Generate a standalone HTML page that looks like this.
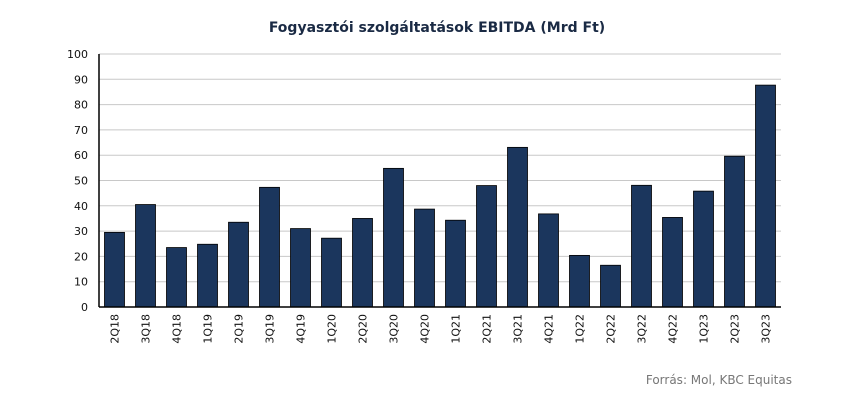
<!DOCTYPE html>
<html><head><meta charset="utf-8"><style>
body{margin:0;background:#fff;width:850px;height:405px;overflow:hidden;font-family:"DejaVu Sans","Liberation Sans",sans-serif}
</style></head><body>
<svg id="chart" width="850" height="405" xmlns="http://www.w3.org/2000/svg">
<text x="437" y="32" text-anchor="middle" font-size="14" font-weight="bold" fill="#1a2a44">Fogyasztói szolgáltatások EBITDA (Mrd Ft)</text>
<g id="grid"></g><g id="bars"></g><g id="xlabels"></g><g id="ylabels"></g>
<line x1="99" y1="54" x2="99" y2="307" stroke="#000" stroke-width="1.5"/>
<line x1="99" y1="307" x2="781" y2="307" stroke="#000" stroke-width="1.5"/>
<text x="792" y="384" text-anchor="end" font-size="12" fill="#777">Forrás: Mol, KBC Equitas</text>
</svg>
<script>
const categories=["2Q18","3Q18","4Q18","1Q19","2Q19","3Q19","4Q19","1Q20","2Q20","3Q20","4Q20","1Q21","2Q21","3Q21","4Q21","1Q22","2Q22","3Q22","4Q22","1Q23","2Q23","3Q23"];
const values=[29.5,40.5,23.5,24.8,33.5,47.3,31,27.2,35,54.8,38.7,34.3,48,63.1,36.8,20.4,16.5,48.1,35.4,45.8,59.6,87.7];
const yTicks=[0,10,20,30,40,50,60,70,80,90,100];
const NS="http://www.w3.org/2000/svg";
const x0=99,x1=781,y0=307,y1=54,yMax=100;
const slot=(x1-x0)/categories.length;
const yS=v=>y0-(v/yMax)*(y0-y1);
const xC=i=>x0+slot*(i+0.5);
const g=document.getElementById('grid'),b=document.getElementById('bars'),xl=document.getElementById('xlabels'),yl=document.getElementById('ylabels');
yTicks.forEach(t=>{
 const l=document.createElementNS(NS,'line');
 
 
 l.setAttribute('x1',x0);l.setAttribute('x2',x1);l.setAttribute('y1',yS(t));l.setAttribute('y2',yS(t));
 l.setAttribute('stroke','#c8c8c8');l.setAttribute('stroke-width','1');g.appendChild(l);
 const tx=document.createElementNS(NS,'text');
 
 
 tx.setAttribute('x',88);tx.setAttribute('y',yS(t)+4);tx.setAttribute('text-anchor','end');
 tx.setAttribute('font-size','11');tx.setAttribute('fill','#111');tx.textContent=t;yl.appendChild(tx);
});
values.forEach((v,i)=>{
 const r=document.createElementNS(NS,'rect');
 
 
 r.setAttribute('x',xC(i)-10);r.setAttribute('width',20);r.setAttribute('y',yS(v));r.setAttribute('height',y0-yS(v));
 r.setAttribute('fill','#1b365d');r.setAttribute('stroke','#000');r.setAttribute('stroke-width','0.8');b.appendChild(r);
 const tx=document.createElementNS(NS,'text');
 
 
 tx.setAttribute('transform','translate('+(xC(i)+4)+',314) rotate(-90)');
 tx.setAttribute('text-anchor','end');tx.setAttribute('font-size','11');tx.setAttribute('fill','#111');
 tx.textContent=categories[i];xl.appendChild(tx);
});
</script>
</body></html>
